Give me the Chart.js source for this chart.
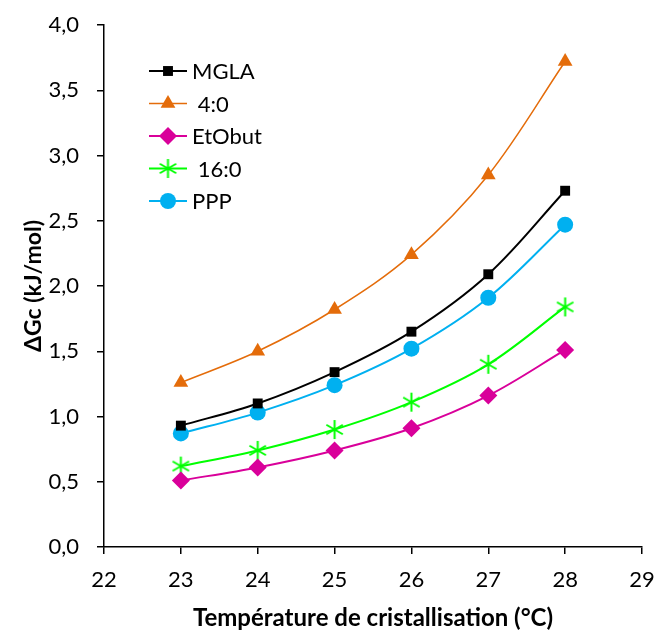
<!DOCTYPE html>
<html>
<head>
<meta charset="utf-8">
<script src="https://cdn.jsdelivr.net/npm/chart.js@4"></script>
<style>
  html, body { margin: 0; padding: 0; background: #fff; }
  #wrap { width: 658px; height: 635px; }
</style>
</head>
<body>
<div id="wrap"><canvas id="gcChart" width="658" height="635"></canvas></div>
<script>
// Data
const temps = [23, 24, 25, 26, 27, 28];
const mgla = [0.93, 1.10, 1.34, 1.65, 2.09, 2.73];
const c4 = [1.26, 1.50, 1.82, 2.24, 2.85, 3.72];
const etobut = [0.51, 0.61, 0.74, 0.91, 1.16, 1.51];
const c16 = [0.62, 0.74, 0.90, 1.11, 1.40, 1.84];
const ppp = [0.87, 1.03, 1.24, 1.52, 1.91, 2.47];
const seriesNames = ['MGLA', ' 4:0', 'EtObut', ' 16:0', 'PPP'];

const FONT = 'Lato, "Open Sans", sans-serif';

// Excel-like asterisk marker (vertical line + X)
function makeStar(color, r) {
    const c = document.createElement('canvas');
    const s = r * 2 + 4;
    c.width = s; c.height = s;
    const g = c.getContext('2d');
    g.strokeStyle = color;
    g.lineWidth = 2;
    const m = s / 2;
    g.beginPath();
    g.moveTo(m, m - r); g.lineTo(m, m + r);
    const dx = r * Math.cos(Math.PI / 6), dy = r * Math.sin(Math.PI / 6);
    g.moveTo(m - dx, m - dy); g.lineTo(m + dx, m + dy);
    g.moveTo(m - dx, m + dy); g.lineTo(m + dx, m - dy);
    g.stroke();
    return c;
}
const starMarker = makeStar('#00ff00', 9.5);

function pts(vals) {
    return temps.map((t, i) => ({ x: t, y: vals[i] }));
}

function series(label, vals, color, style, radius, width) {
    return {
        label: label,
        data: pts(vals),
        borderColor: color,
        backgroundColor: color,
        borderWidth: width,
        pointStyle: style,
        pointRadius: radius,
        pointBorderWidth: 0,
        pointBackgroundColor: color,
        pointBorderColor: color,
        tension: 0.35
    };
}

// Legend drawn inside the plot, like the original
const insideLegend = {
    id: 'insideLegend',
    afterDraw(chart) {
        const ctx = chart.ctx;
        const x0 = 149, x1 = 187, xm = 168, xt = 192;
        const y0 = 71, step = 32.5;
        chart.data.datasets.forEach((ds, i) => {
            const y = y0 + i * step;
            ctx.save();
            ctx.strokeStyle = ds.borderColor;
            ctx.lineWidth = ds.borderWidth;
            ctx.beginPath();
            ctx.moveTo(x0, y); ctx.lineTo(x1, y);
            ctx.stroke();
            ctx.fillStyle = ds.backgroundColor;
            ctx.strokeStyle = ds.borderColor;
            Chart.helpers.drawPoint(ctx, {
                pointStyle: ds.pointStyle,
                rotation: 0,
                radius: ds.pointRadius,
                borderWidth: 0
            }, xm, y);
            ctx.fillStyle = '#000';
            ctx.font = '22px ' + FONT;
            ctx.textBaseline = 'middle';
            ctx.textAlign = 'left';
            ctx.fillText(ds.label, xt, y + 1);
            ctx.restore();
        });
    }
};

new Chart(document.getElementById('gcChart'), {
    type: 'line',
    data: {
        datasets: [
            series(seriesNames[0], mgla, '#000000', 'rect', 7, 2),
            series(seriesNames[1], c4, '#e46c0a', 'triangle', 8.5, 1.5),
            series(seriesNames[2], etobut, '#d9009a', 'rectRot', 9, 2),
            series(seriesNames[3], c16, '#00ff00', starMarker, 9.5, 2),
            series(seriesNames[4], ppp, '#00b0f0', 'circle', 8, 2)
        ]
    },
    options: {
        responsive: false,
        animation: false,
        layout: { padding: { top: 25, right: 16, left: 20, bottom: 0 } },
        plugins: {
            legend: { display: false },
            tooltip: { enabled: false }
        },
        scales: {
            x: {
                type: 'linear',
                min: 22,
                max: 29,
                border: { display: true, color: '#000', width: 1.5 },
                grid: { drawOnChartArea: false, drawTicks: true, tickLength: 7, color: '#000', lineWidth: 1.5 },
                ticks: {
                    stepSize: 1,
                    color: '#000',
                    padding: 13,
                    font: { family: FONT, size: 22 }
                },
                title: {
                    display: true,
                    text: 'Température de cristallisation (°C)',
                    color: '#000',
                    font: { family: FONT, size: 24, weight: 'bold' },
                    padding: { top: 4, bottom: 2 }
                },
                afterFit(scale) {
                    scale.height = 88;
                    scale.paddingLeft = 0;
                    scale.paddingRight = 0;
                }
            },
            y: {
                min: 0,
                max: 4,
                border: { display: true, color: '#000', width: 1.5 },
                grid: { drawOnChartArea: false, drawTicks: true, tickLength: 7, color: '#000', lineWidth: 1.5 },
                ticks: {
                    stepSize: 0.5,
                    color: '#000',
                    padding: 18,
                    font: { family: FONT, size: 22 },
                    callback: v => v.toFixed(1).replace('.', ',')
                },
                title: {
                    display: true,
                    text: 'ΔGc (kJ/mol)',
                    color: '#000',
                    font: { family: FONT, size: 23, weight: 'bold' },
                    padding: { top: 0, bottom: 4 }
                },
                afterFit(scale) {
                    scale.width = 84;
                    scale.paddingTop = 0;
                    scale.paddingBottom = 0;
                }
            }
        }
    },
    plugins: [insideLegend]
});
</script>
</body>
</html>
